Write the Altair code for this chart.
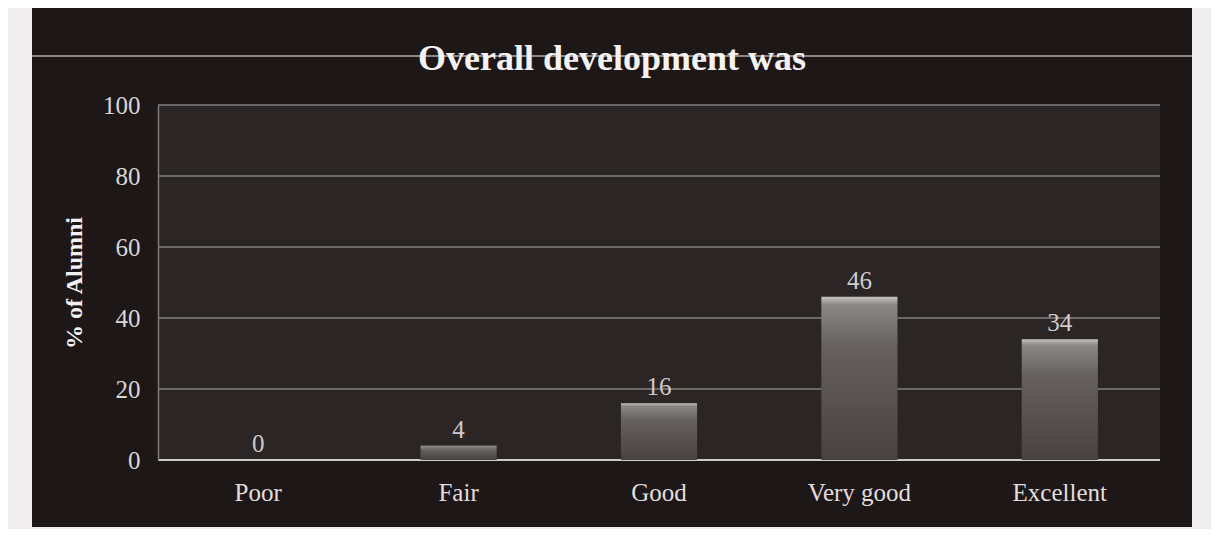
import altair as alt
import pandas as pd

categories = ["Poor", "Fair", "Good", "Very good", "Excellent"]
percent = [0, 4, 16, 46, 34]
y_ticks = [0, 20, 40, 60, 80, 100]
title_text = ["Overall development was"]

W, H = 1002, 355
SERIF = "Liberation Serif"

bars_df = pd.DataFrame({"cat": categories, "pct": percent})
grid_df = pd.DataFrame({"tick": y_ticks, "is_zero": [t == 0 for t in y_ticks]})
title_df = pd.DataFrame({"t": title_text})

x_enc = alt.X("cat:N", sort=categories, title=None,
              scale=alt.Scale(paddingInner=0.62, paddingOuter=0.31),
              axis=alt.Axis(labelFont=SERIF, labelFontSize=25, labelColor="#e2dede",
                            labelPadding=20, ticks=False, domain=False, labelAngle=0,
                            zindex=1))
y_scale = alt.Scale(domain=[0, 100], nice=False)

# decorative dark frame and plot panel
frame = alt.Chart(bars_df).mark_rect(color="#1d1718").encode(
    x=alt.value(-126), x2=alt.value(1034), y=alt.value(-97), y2=alt.value(422))
panel = alt.Chart(bars_df).mark_rect(color="#2c2525").encode(
    x=alt.value(0), x2=alt.value(W), y=alt.value(0), y2=alt.value(H))
topline = alt.Chart(bars_df).mark_rule(color="#8c8686", strokeWidth=2, opacity=0.8).encode(
    x=alt.value(-126), x2=alt.value(1034), y=alt.value(-49))

title = alt.Chart(title_df).mark_text(
    font=SERIF, fontSize=36, fontWeight="bold", color="#f4f2f2",
    align="center", baseline="alphabetic"
).encode(x=alt.value(454), y=alt.value(-35), text="t:N")

grid = alt.Chart(grid_df).mark_rule().encode(
    y=alt.Y("tick:Q", scale=y_scale),
    color=alt.condition("datum.is_zero", alt.value("#cfcaca"), alt.value("#858080")),
    strokeWidth=alt.condition("datum.is_zero", alt.value(2.2), alt.value(1.3)),
)

bar_fill = alt.Gradient(
    gradient="linear", x1=0, x2=0, y1=0, y2=1,
    stops=[alt.GradientStop(color="#c8c4c4", offset=0),
           alt.GradientStop(color="#8c8787", offset=0.05),
           alt.GradientStop(color="#666060", offset=0.3),
           alt.GradientStop(color="#474141", offset=1)])

bars = alt.Chart(bars_df).mark_bar(color=bar_fill).encode(
    x=x_enc,
    y=alt.Y("pct:Q", scale=y_scale, title="% of Alumni",
            axis=alt.Axis(values=y_ticks, labelFont=SERIF, labelFontSize=25,
                          labelColor="#dad6d6", labelPadding=18, ticks=False,
                          grid=False, domainColor="#807a7a", domainWidth=1.5,
                          titleFont=SERIF, titleFontSize=24, titleFontWeight="bold",
                          titleColor="#f2f0f0", titlePadding=16, zindex=1)),
)

labels = alt.Chart(bars_df).mark_text(
    font=SERIF, fontSize=25, color="#cfcaca", baseline="alphabetic", dy=-8
).encode(x=alt.X("cat:N", sort=categories), y=alt.Y("pct:Q", scale=y_scale), text="pct:Q")

chart = alt.layer(frame, panel, topline, grid, bars, labels, title).properties(
    width=W, height=H,
    autosize=alt.AutoSizeParams(type="none"),
    padding={"left": 150, "top": 97, "right": 51, "bottom": 69},
    background="#efeded",
).configure_view(strokeWidth=0)

chart.save("out.html", embed_options={"renderer": "svg", "actions": False})
